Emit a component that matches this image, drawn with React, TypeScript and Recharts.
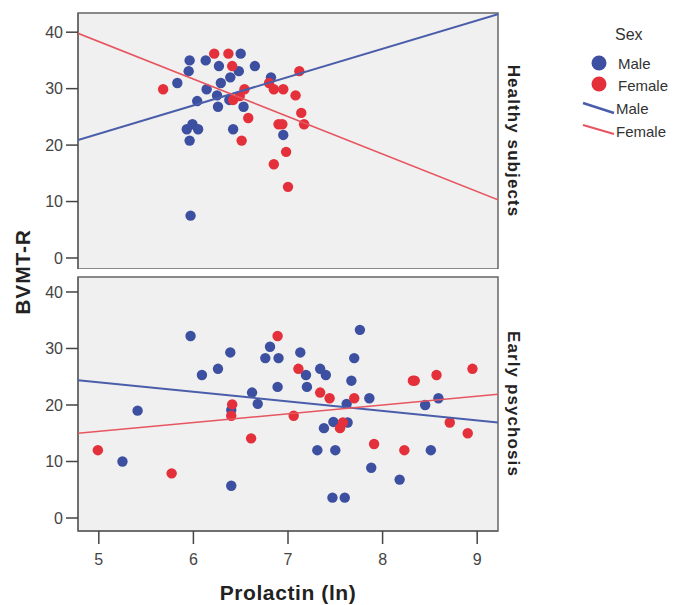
import React from 'react';
import { ScatterChart, Scatter, XAxis, YAxis, ReferenceArea } from 'recharts';

const BLUE = '#3c4fa0';
const RED = '#e4303a';
const BLUE_LINE = '#4a5daa';
const RED_LINE = '#e65560';
const FONT = "'Liberation Sans', Arial, sans-serif";

const xTicks = [5, 6, 7, 8, 9];
const yTicks = [0, 10, 20, 30, 40];
const xDomain: [number, number] = [4.78, 9.22];

// Healthy subjects
const healthyMale = [
    { x: 5.96, y: 35.0 }, { x: 6.13, y: 35.0 }, { x: 5.95, y: 33.1 }, { x: 5.83, y: 31.0 },
    { x: 6.27, y: 34.0 }, { x: 6.5, y: 36.2 }, { x: 6.48, y: 33.1 }, { x: 6.39, y: 32.0 },
    { x: 6.65, y: 34.0 }, { x: 6.29, y: 31.0 }, { x: 6.14, y: 29.9 }, { x: 6.25, y: 28.8 },
    { x: 6.04, y: 27.8 }, { x: 6.26, y: 26.8 }, { x: 6.38, y: 28.0 }, { x: 6.53, y: 26.8 },
    { x: 5.93, y: 22.8 }, { x: 5.99, y: 23.7 }, { x: 6.05, y: 22.8 }, { x: 5.96, y: 20.8 },
    { x: 6.42, y: 22.8 }, { x: 5.97, y: 7.5 }, { x: 6.82, y: 32.0 }, { x: 6.95, y: 21.8 },
];
const healthyFemale = [
    { x: 5.68, y: 29.9 }, { x: 6.22, y: 36.2 }, { x: 6.37, y: 36.2 }, { x: 6.41, y: 34.0 },
    { x: 6.42, y: 28.0 }, { x: 6.49, y: 28.7 }, { x: 6.54, y: 29.9 }, { x: 6.58, y: 24.8 },
    { x: 6.51, y: 20.8 }, { x: 6.8, y: 31.0 }, { x: 6.85, y: 29.9 }, { x: 6.95, y: 29.9 },
    { x: 7.08, y: 28.8 }, { x: 7.12, y: 33.1 }, { x: 7.14, y: 25.7 }, { x: 7.17, y: 23.7 },
    { x: 6.9, y: 23.7 }, { x: 6.94, y: 23.7 }, { x: 6.85, y: 16.6 }, { x: 6.98, y: 18.8 },
    { x: 7.0, y: 12.6 },
];
const healthyMaleFit = [{ x: 4.78, y: 20.9 }, { x: 9.22, y: 43.2 }];
const healthyFemaleFit = [{ x: 4.78, y: 39.8 }, { x: 9.22, y: 10.3 }];

// Early psychosis
const psychosisMale = [
    { x: 5.97, y: 32.2 }, { x: 6.09, y: 25.3 }, { x: 6.26, y: 26.4 }, { x: 6.39, y: 29.3 },
    { x: 5.25, y: 10.0 }, { x: 5.41, y: 19.0 }, { x: 6.4, y: 5.7 }, { x: 6.4, y: 19.1 },
    { x: 6.62, y: 22.2 }, { x: 6.68, y: 20.2 }, { x: 6.76, y: 28.3 }, { x: 6.81, y: 30.3 },
    { x: 6.9, y: 28.3 }, { x: 6.89, y: 23.2 }, { x: 7.13, y: 29.3 }, { x: 7.19, y: 25.3 },
    { x: 7.2, y: 23.2 }, { x: 7.34, y: 26.4 }, { x: 7.4, y: 25.3 }, { x: 7.38, y: 15.9 },
    { x: 7.48, y: 17.0 }, { x: 7.31, y: 12.0 }, { x: 7.5, y: 12.0 }, { x: 7.47, y: 3.6 },
    { x: 7.6, y: 3.6 }, { x: 7.62, y: 20.2 }, { x: 7.63, y: 16.9 }, { x: 7.67, y: 24.3 },
    { x: 7.7, y: 28.3 }, { x: 7.76, y: 33.3 }, { x: 7.86, y: 21.2 }, { x: 7.88, y: 8.9 },
    { x: 8.18, y: 6.8 }, { x: 8.45, y: 20.0 }, { x: 8.59, y: 21.2 }, { x: 8.51, y: 12.0 },
];
const psychosisFemale = [
    { x: 4.99, y: 12.0 }, { x: 5.77, y: 7.9 }, { x: 6.89, y: 32.2 }, { x: 6.41, y: 20.1 },
    { x: 6.4, y: 18.1 }, { x: 6.61, y: 14.1 }, { x: 7.06, y: 18.1 }, { x: 7.11, y: 26.4 },
    { x: 7.34, y: 22.2 }, { x: 7.44, y: 21.2 }, { x: 7.55, y: 15.9 }, { x: 7.58, y: 16.9 },
    { x: 7.7, y: 21.2 }, { x: 7.91, y: 13.1 }, { x: 8.23, y: 12.0 }, { x: 8.32, y: 24.3 },
    { x: 8.34, y: 24.3 }, { x: 8.57, y: 25.3 }, { x: 8.71, y: 16.9 }, { x: 8.9, y: 15.0 },
    { x: 8.95, y: 26.4 },
];
const psychosisMaleFit = [{ x: 4.78, y: 24.4 }, { x: 9.22, y: 16.9 }];
const psychosisFemaleFit = [{ x: 4.78, y: 15.0 }, { x: 9.22, y: 21.9 }];

const dot = (color: string) => (p: any) => <circle cx={p.cx} cy={p.cy} r={5.2} fill={color} />;
const noDot = () => <g />;

const stripLabel = (text: string) => (props: any) => {
    const { x, y, width, height } = props.viewBox;
    const cx = x + width + 15;
    const cy = y + height / 2;
    return (
        <text
            x={cx}
            y={cy}
            transform={`rotate(90 ${cx} ${cy})`}
            textAnchor="middle"
            dominantBaseline="central"
            fontSize={17}
            fontWeight="bold"
            letterSpacing={1.1}
            fill="#222"
        >
            {text}
        </text>
    );
};

const xTitle = (props: any) => {
    const { x, y, width } = props.viewBox;
    return (
        <text
            x={x + width / 2}
            y={y + 61}
            textAnchor="middle"
            dominantBaseline="central"
            fontSize={21}
            fontWeight="bold"
            letterSpacing={0.6}
            fill="#222"
        >
            Prolactin (ln)
        </text>
    );
};

interface PanelProps {
    top: number;
    height: number;
    marginTop: number;
    yDomain: [number, number];
    male: { x: number; y: number }[];
    female: { x: number; y: number }[];
    maleFit: { x: number; y: number }[];
    femaleFit: { x: number; y: number }[];
    strip: string;
    showX: boolean;
}

function Panel({ top, height, marginTop, yDomain, male, female, maleFit, femaleFit, strip, showX }: PanelProps) {
    return (
        <div style={{ position: 'absolute', left: 0, top, width: 681, height }}>
            <ScatterChart width={681} height={height} margin={{ top: marginTop, right: 183, bottom: 0, left: 0 }}>
                <XAxis
                    type="number"
                    dataKey="x"
                    domain={xDomain}
                    ticks={xTicks}
                    allowDataOverflow
                    hide={!showX}
                    height={74}
                    tickSize={13}
                    tickMargin={10}
                    tick={{ fill: '#444', fontSize: 16 }}
                    axisLine={{ stroke: '#666', strokeWidth: 1.5 }}
                    tickLine={{ stroke: '#444', strokeWidth: 1.5 }}
                    label={showX ? xTitle : undefined}
                />
                <YAxis
                    type="number"
                    dataKey="y"
                    domain={yDomain}
                    ticks={yTicks}
                    allowDataOverflow
                    width={78}
                    tickSize={12}
                    tickMargin={3}
                    tick={{ fill: '#444', fontSize: 16 }}
                    axisLine={{ stroke: '#666', strokeWidth: 1.5 }}
                    tickLine={{ stroke: '#444', strokeWidth: 1.5 }}
                />
                <ReferenceArea
                    x1={xDomain[0]}
                    x2={xDomain[1]}
                    y1={yDomain[0]}
                    y2={yDomain[1]}
                    fill="#f0f0f0"
                    fillOpacity={1}
                    stroke="#666"
                    strokeWidth={1.5}
                    ifOverflow="visible"
                    label={stripLabel(strip)}
                />
                <Scatter data={male} fill={BLUE} shape={dot(BLUE)} isAnimationActive={false} />
                <Scatter data={female} fill={RED} shape={dot(RED)} isAnimationActive={false} />
                <Scatter
                    data={maleFit}
                    fill={BLUE_LINE}
                    line={{ stroke: BLUE_LINE, strokeWidth: 2 }}
                    shape={noDot}
                    isAnimationActive={false}
                />
                <Scatter
                    data={femaleFit}
                    fill={RED_LINE}
                    line={{ stroke: RED_LINE, strokeWidth: 1.5 }}
                    shape={noDot}
                    isAnimationActive={false}
                />
            </ScatterChart>
        </div>
    );
}

function SexLegend() {
    return (
        <svg width={121} height={150} style={{ position: 'absolute', left: 560, top: 0 }}>
            <text x={55} y={34} fontSize={16} fill="#333" dominantBaseline="central">Sex</text>
            <circle cx={39} cy={63} r={7.5} fill={BLUE} />
            <text x={58} y={63} fontSize={15} fill="#333" dominantBaseline="central">Male</text>
            <circle cx={39} cy={84} r={7.5} fill={RED} />
            <text x={58} y={85} fontSize={15} fill="#333" dominantBaseline="central">Female</text>
            <line x1={23} y1={103} x2={54} y2={113} stroke={BLUE_LINE} strokeWidth={2.5} />
            <text x={56} y={108} fontSize={15} fill="#333" dominantBaseline="central">Male</text>
            <line x1={23} y1={125} x2={54} y2={134} stroke={RED_LINE} strokeWidth={2} />
            <text x={56} y={131} fontSize={15} fill="#333" dominantBaseline="central">Female</text>
        </svg>
    );
}

export default function App() {
    return (
        <div style={{ position: 'absolute', left: 0, top: 0, width: 681, height: 605, background: '#fff', fontFamily: FONT }}>
            <Panel
                top={0}
                height={269}
                marginTop={13}
                yDomain={[-1.95, 43.4]}
                male={healthyMale}
                female={healthyFemale}
                maleFit={healthyMaleFit}
                femaleFit={healthyFemaleFit}
                strip="Healthy subjects"
                showX={false}
            />
            <Panel
                top={269}
                height={336}
                marginTop={8}
                yDomain={[-2.3, 42.65]}
                male={psychosisMale}
                female={psychosisFemale}
                maleFit={psychosisMaleFit}
                femaleFit={psychosisFemaleFit}
                strip="Early psychosis"
                showX={true}
            />
            <svg width={44} height={160} style={{ position: 'absolute', left: 0, top: 192 }}>
                <text
                    x={22}
                    y={80}
                    transform="rotate(-90 22 80)"
                    textAnchor="middle"
                    dominantBaseline="central"
                    fontSize={21}
                    fontWeight="bold"
                    letterSpacing={0.8}
                    fill="#222"
                >
                    BVMT-R
                </text>
            </svg>
            <SexLegend />
        </div>
    );
}
